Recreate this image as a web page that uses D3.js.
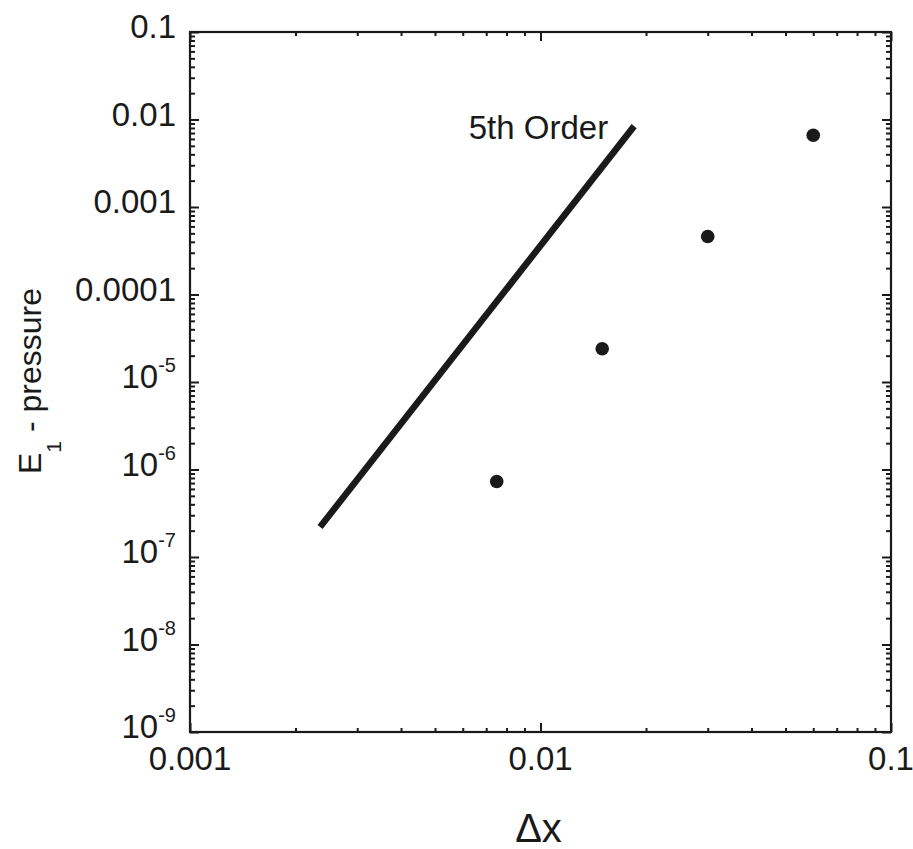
<!DOCTYPE html>
<html>
<head>
<meta charset="utf-8">
<script src="https://cdn.jsdelivr.net/npm/d3@7"></script>
<style>
  html, body { margin: 0; padding: 0; background: #fff; }
  svg { display: block; }
  text { font-family: "Liberation Sans", Arial, Helvetica, sans-serif; fill: #1a1a1a; }
</style>
</head>
<body>
<svg id="chart" width="913" height="849"></svg>
<script>
// ---- Data ----
const dxValues = [0.0075, 0.015, 0.03, 0.06];
const errValues = [7.3e-7, 2.4e-5, 4.6e-4, 6.6e-3];
const refLineX = [0.00235, 0.0185];
const refLineY = [2.2e-7, 8.4e-3];
const refLineLabel = "5th Order";
const xMajorTicks = [0.001, 0.01, 0.1];
const xTickLabels = ["0.001", "0.01", "0.1"];
const yMajorTicks = [1e-1, 1e-2, 1e-3, 1e-4, 1e-5, 1e-6, 1e-7, 1e-8, 1e-9];
const yTickBase = ["0.1", "0.01", "0.001", "0.0001", "10", "10", "10", "10", "10"];
const yTickExp  = ["", "", "", "", "-5", "-6", "-7", "-8", "-9"];

(function () {
// ---- Layout ----
const svg = d3.select("#chart");
const pL = 190, pT = 32, pR = 891, pB = 732;
const ink = "#1a1a1a";

const x = d3.scaleLog().domain([0.001, 0.1]).range([pL, pR]);
const y = d3.scaleLog().domain([1e-9, 0.1]).range([pB, pT]);

const xMinor = x.ticks().filter(v => !xMajorTicks.some(m => Math.abs(m - v) / m < 1e-6));
const yMinor = y.ticks().filter(v => !yMajorTicks.some(m => Math.abs(m - v) / m < 1e-6));

function styleAxis(g) {
  g.select(".domain").remove();
  g.selectAll("line").attr("stroke", ink).attr("stroke-width", 2);
}

// minor ticks (inward)
svg.append("g").attr("transform", `translate(0,${pB})`)
  .call(d3.axisBottom(x).tickValues(xMinor).tickSize(-4).tickFormat("")).call(styleAxis);
svg.append("g").attr("transform", `translate(0,${pT})`)
  .call(d3.axisTop(x).tickValues(xMinor).tickSize(-4).tickFormat("")).call(styleAxis);
svg.append("g").attr("transform", `translate(${pL},0)`)
  .call(d3.axisLeft(y).tickValues(yMinor).tickSize(-5).tickFormat("")).call(styleAxis);
svg.append("g").attr("transform", `translate(${pR},0)`)
  .call(d3.axisRight(y).tickValues(yMinor).tickSize(-5).tickFormat("")).call(styleAxis);

// major ticks
svg.append("g").attr("transform", `translate(0,${pB})`)
  .call(d3.axisBottom(x).tickValues(xMajorTicks).tickSize(-9).tickFormat("")).call(styleAxis);
svg.append("g").attr("transform", `translate(0,${pT})`)
  .call(d3.axisTop(x).tickValues(xMajorTicks).tickSize(-9).tickFormat("")).call(styleAxis);
svg.append("g").attr("transform", `translate(${pL},0)`)
  .call(d3.axisLeft(y).tickValues(yMajorTicks).tickSize(-9).tickFormat("")).call(styleAxis);
svg.append("g").attr("transform", `translate(${pR},0)`)
  .call(d3.axisRight(y).tickValues(yMajorTicks).tickSize(-9).tickFormat("")).call(styleAxis);

// frame
svg.append("rect")
  .attr("x", pL).attr("y", pT)
  .attr("width", pR - pL).attr("height", pB - pT)
  .attr("fill", "none").attr("stroke", ink).attr("stroke-width", 2.2);

// x tick labels
svg.append("g").selectAll("text").data(xMajorTicks).join("text")
  .attr("x", d => x(d)).attr("y", pB + 38)
  .attr("text-anchor", "middle").attr("font-size", 33)
  .text((d, i) => xTickLabels[i]);

// y tick labels
const yl = svg.append("g").selectAll("text").data(yMajorTicks).join("text")
  .attr("x", pL - 14).attr("y", d => y(d) + 6)
  .attr("text-anchor", "end").attr("font-size", 33);
yl.each(function(d, i) {
  const t = d3.select(this);
  t.append("tspan").text(yTickBase[i]);
  if (yTickExp[i]) {
    t.append("tspan").attr("font-size", 20).attr("dy", -16).text(yTickExp[i]);
  }
});

// reference line
svg.append("path")
  .datum(refLineX.map((v, i) => [v, refLineY[i]]))
  .attr("d", d3.line().x(d => x(d[0])).y(d => y(d[1])))
  .attr("fill", "none").attr("stroke", ink).attr("stroke-width", 6.5)
  .attr("stroke-linecap", "butt");

svg.append("text")
  .attr("x", x(refLineX[1]) - 26).attr("y", y(refLineY[1]) + 13)
  .attr("text-anchor", "end").attr("font-size", 33)
  .text(refLineLabel);

// data points
svg.append("g").selectAll("circle").data(dxValues).join("circle")
  .attr("cx", d => x(d)).attr("cy", (d, i) => y(errValues[i]))
  .attr("r", 6.8).attr("fill", ink);

// axis titles
svg.append("text")
  .attr("x", (pL + pR) / 2 - 2).attr("y", 842)
  .attr("text-anchor", "middle").attr("font-size", 40)
  .text("\u0394x");

const yt = svg.append("text")
  .attr("transform", "translate(41,381) rotate(-90)")
  .attr("text-anchor", "middle").attr("font-size", 32);
yt.append("tspan").text("E");
yt.append("tspan").attr("font-size", 21).attr("dy", 20).text("1");
yt.append("tspan").attr("dy", -20).text(" - pressure");
})();
</script>
</body>
</html>
